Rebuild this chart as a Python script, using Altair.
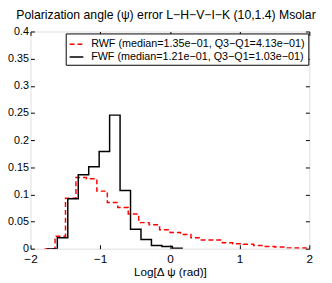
import altair as alt
import pandas as pd

# ---- data ----
title_text = "Polarization angle (\u03c8) error L\u2212H\u2212V\u2212I\u2212K (10,1.4) Msolar"
x_title = "Log[\u0394 \u03c8 (rad)]"
x_ticks = [-2, -1, 0, 1, 2]
y_ticks = [0, 0.05, 0.1, 0.15, 0.2, 0.25, 0.3, 0.35, 0.4]

rwf_label = "RWF (median=1.35e\u221201, Q3\u2212Q1=4.13e\u221201)"
fwf_label = "FWF (median=1.21e\u221201, Q3\u2212Q1=1.03e\u221201)"

bin_width = 0.15
rwf_first_edge = -1.798
rwf_values = [0, 0.023, 0.093, 0.131, 0.129, 0.106, 0.085, 0.076, 0.064, 0.048,
              0.044, 0.035, 0.030, 0.026, 0.020, 0.016, 0.016, 0.011, 0.009,
              0.008, 0.006, 0.004, 0.003, 0.0015, 0.0013, 0.0006]
fwf_first_edge = -1.765
fwf_values = [0, 0.020, 0.092, 0.136, 0.151, 0.179, 0.246, 0.107, 0.036, 0.017,
              0.006, 0.004, 0.001]


def step_rows(series, first_edge, values):
    rows = []
    for i, v in enumerate(values):
        rows.append({"series": series, "x": round(first_edge + i * bin_width, 4), "y": v})
    rows.append({"series": series, "x": round(first_edge + len(values) * bin_width, 4),
                 "y": values[-1]})
    return rows


df = pd.DataFrame(step_rows(rwf_label, rwf_first_edge, rwf_values)
                  + step_rows(fwf_label, fwf_first_edge, fwf_values))

FONT = "Liberation Sans"
series_domain = [rwf_label, fwf_label]

xscale = alt.Scale(domain=[-2, 2], nice=False, zero=False)
yscale = alt.Scale(domain=[0, 0.4], nice=False, zero=False)

legend = alt.Legend(
    title=None, orient="none", legendX=36, legendY=2,
    fillColor="white", strokeColor="black", padding=3,
    symbolType="stroke", symbolSize=196, symbolStrokeWidth=1.5,
    labelFont=FONT, labelFontSize=11, labelColor="black", rowPadding=0,
    labelOffset=7, labelLimit=400,
)

color = alt.Color("series:N", scale=alt.Scale(domain=series_domain, range=["#ff0000", "#000000"]),
                  legend=legend)
dash = alt.StrokeDash("series:N", scale=alt.Scale(domain=series_domain, range=[[5, 3], [1, 0]]),
                      legend=legend)

common_axis = dict(grid=False, domain=False, offset=-4, tickSize=4, tickColor="black",
                   tickWidth=1, labelFont=FONT, labelColor="black", labelFlush=False,
                   minExtent=0, titleFont=FONT, titleFontSize=12, titleFontWeight="normal",
                   titleColor="black")

lines = alt.Chart(df).mark_line(interpolate="step-after", strokeWidth=1.5, clip=True).encode(
    x=alt.X("x:Q", scale=xscale,
            axis=alt.Axis(orient="bottom", values=x_ticks, format="~g", title=x_title,
                          labelFontSize=12, labelPadding=5, titlePadding=2, **common_axis)),
    y=alt.Y("y:Q", scale=yscale,
            axis=alt.Axis(orient="left", values=y_ticks, format="~g", title=None,
                          labelFontSize=11, labelPadding=2, **common_axis)),
    color=color,
    strokeDash=dash,
)

mirror = alt.Chart(df).mark_line(strokeOpacity=0, clip=True).encode(
    x=alt.X("x:Q", scale=xscale,
            axis=alt.Axis(orient="top", values=x_ticks, labels=False, title=None,
                          maxExtent=0, **common_axis)),
    y=alt.Y("y:Q", scale=yscale,
            axis=alt.Axis(orient="right", values=y_ticks, labels=False, title=None,
                          maxExtent=0, **common_axis)),
)

chart = alt.layer(lines, mirror).resolve_axis(x="independent", y="independent").properties(
    width=285, height=222,
    title=alt.Title(title_text, font=FONT, fontSize=12.5, fontWeight="normal", color="black",
                    anchor="middle", baseline="bottom", offset=-9, dx=-4),
    autosize=alt.AutoSizeParams(type="none"),
    padding={"left": 23, "top": 21, "right": 15, "bottom": 30},
).configure_view(stroke="black", strokeWidth=1).configure(background="white")

chart.save("out.html", embed_options={"renderer": "svg", "actions": False})
